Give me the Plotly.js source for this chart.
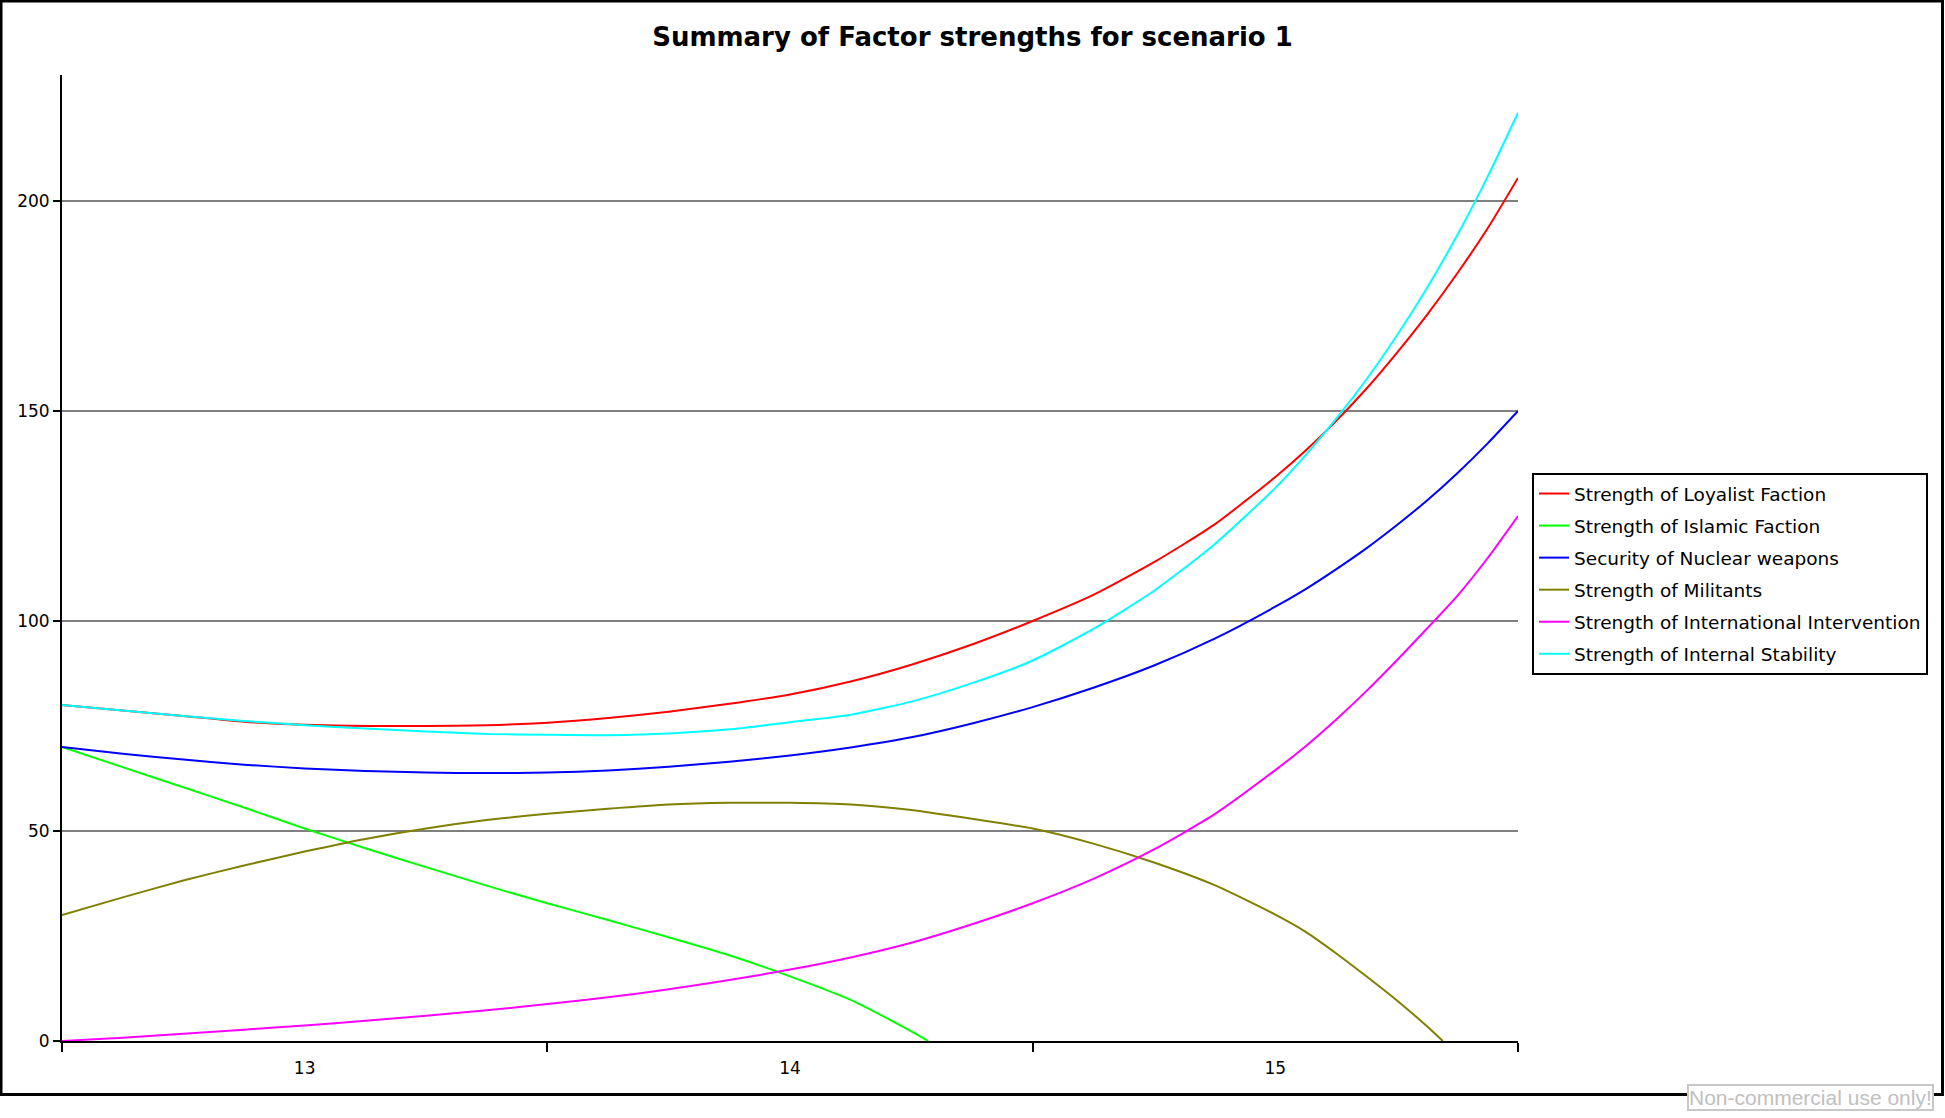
<!DOCTYPE html>
<html>
<head>
<meta charset="utf-8">
<script src="https://cdn.plot.ly/plotly-3.0.1.min.js"></script>
<style>
  html, body { margin: 0; padding: 0; background: #ffffff; }
  #chart { width: 1945px; height: 1118px; }
</style>
</head>
<body>
<div id="chart"></div>
<script>
// ---- data ----
const seriesNames = [
  "Strength of Loyalist Faction",
  "Strength of Islamic Faction",
  "Security of Nuclear weapons",
  "Strength of Militants",
  "Strength of International Intervention",
  "Strength of Internal Stability"
];
const seriesColors = ["#ff0000", "#00ff00", "#0000ff", "#808000", "#ff00ff", "#00ffff"];

// time axis (finer sampling where the curves rise steeply)
const time = [12.5, 12.625, 12.75, 12.875, 13.0, 13.125, 13.25, 13.375, 13.5, 13.625, 13.75, 13.875,
              14.0, 14.125, 14.25, 14.375, 14.5, 14.625, 14.75, 14.875, 15.0, 15.0625, 15.125, 15.1875,
              15.25, 15.3125, 15.375, 15.4375, 15.5];
const timeIslamic = [12.5, 12.625, 12.75, 12.875, 13.0, 13.125, 13.25, 13.375, 13.5, 13.625, 13.75, 13.875,
                     14.0, 14.125, 14.25, 14.285];
const timeMilitants = [12.5, 12.625, 12.75, 12.875, 13.0, 13.125, 13.25, 13.375, 13.5, 13.625, 13.75, 13.875,
                       14.0, 14.125, 14.25, 14.375, 14.5, 14.625, 14.75, 14.875, 15.0, 15.0625, 15.125, 15.1875,
                       15.25, 15.3125, 15.345];

const loyalist = [80.0, 78.7, 77.4, 76.0, 75.3, 75.0, 75.0, 75.2, 75.8, 76.9, 78.4, 80.3,
                  82.5, 85.6, 89.6, 94.4, 100.0, 106.2, 114.0, 123.0, 134.3, 140.6, 147.6, 155.3,
                  163.8, 172.9, 182.8, 193.5, 205.5];
const islamic = [70.0, 65.2, 60.4, 55.6, 50.6, 45.9, 41.4, 37.0, 32.8, 28.8, 24.7, 20.4,
                 15.4, 9.8, 2.3, 0];
const nuclear = [70.0, 68.4, 67.0, 65.8, 64.9, 64.3, 63.9, 63.8, 63.9, 64.4, 65.3, 66.5,
                 68.0, 69.9, 72.3, 75.6, 79.5, 84.1, 89.4, 95.8, 103.4, 107.6, 112.3, 117.3,
                 122.8, 128.7, 135.2, 142.3, 150.0];
const militants = [30.0, 34.2, 38.2, 41.8, 45.1, 48.1, 50.6, 52.6, 54.1, 55.3, 56.3, 56.7,
                   56.7, 56.3, 55.0, 52.9, 50.6, 47.0, 42.5, 37.1, 30.1, 26.0, 20.9, 15.4,
                   9.7, 3.5, 0];
const intervention = [0, 0.8, 1.7, 2.7, 3.7, 4.8, 6.0, 7.3, 8.8, 10.4, 12.3, 14.5,
                      17.0, 19.9, 23.4, 27.8, 32.8, 38.6, 45.6, 54.0, 64.5, 70.2, 76.5, 83.3,
                      90.6, 98.2, 106.0, 115.0, 125.0];
const stability = [80.0, 78.7, 77.4, 76.2, 75.2, 74.4, 73.7, 73.1, 72.9, 72.8, 73.2, 74.2,
                   75.9, 77.7, 80.8, 85.2, 90.6, 98.1, 107.2, 118.3, 131.7, 139.5, 148.1, 157.5,
                   167.9, 179.3, 191.9, 205.8, 221.0];

const xTickVals = [13, 14, 15];
const xTickText = ["13", "14", "15"];
const xBoundaries = [12.5, 13.5, 14.5, 15.5];
const yTickVals = [0, 50, 100, 150, 200];

const titleText = "Summary of Factor strengths for scenario 1";
const watermarkText = "Non-commercial use only!";

// ---- build traces ----
const xs = [time, timeIslamic, time, timeMilitants, time, time];
const ys = [loyalist, islamic, nuclear, militants, intervention, stability];

const traces = seriesNames.map((name, i) => ({
  type: "scatter",
  mode: "lines",
  name: name,
  x: xs[i],
  y: ys[i],
  legendgroup: "g" + i,
  line: { color: seriesColors[i], width: 2, shape: "spline", smoothing: 0.6 },
  hoverinfo: "skip"
}));

// ---- geometry ----
const W = 1945, H = 1118;
const mL = 62, mR = 427, mT = 75, mB = 77;
const pw = W - mL - mR, ph = H - mT - mB;
const px = v => (v - mL) / pw;           // pixel x -> paper x
const py = v => (H - mB - v) / ph;       // pixel y -> paper y

const tickFont = { family: "DejaVu Sans, Verdana, sans-serif", size: 17, color: "#000000" };

const layout = {
  width: W, height: H,
  margin: { l: mL, r: mR, t: mT, b: mB, pad: 0 },
  paper_bgcolor: "#ffffff",
  plot_bgcolor: "#ffffff",
  showlegend: true,
  title: {
    text: titleText,
    font: { family: "DejaVu Sans, Verdana, sans-serif", size: 26, color: "#000000", weight: "bold" },
    xref: "container", x: 0.5, xanchor: "center",
    yref: "container", y: 1 - 37 / H, yanchor: "middle"
  },
  xaxis: {
    range: [12.5, 15.5],
    tickmode: "array", tickvals: xTickVals, ticktext: xTickText,
    ticks: "", showgrid: false, zeroline: false,
    showline: true, linecolor: "#000000", linewidth: 2,
    tickfont: tickFont, ticklabelstandoff: 11,
    minor: { tickmode: "array", tickvals: xBoundaries, ticks: "outside", ticklen: 9, tickwidth: 2, tickcolor: "#000000", showgrid: false },
    fixedrange: true
  },
  xaxis2: {
    overlaying: "x", matches: "x", anchor: "y", side: "bottom",
    range: [12.5, 15.5],
    tickmode: "array", tickvals: xBoundaries, showticklabels: false,
    ticks: "inside", ticklen: 9, tickwidth: 2, tickcolor: "#000000",
    showgrid: false, zeroline: false, showline: false
  },
  yaxis: {
    range: [0, 230],
    tickmode: "array", tickvals: yTickVals,
    ticks: "outside", ticklen: 7, tickwidth: 2, tickcolor: "#000000",
    showgrid: true, gridcolor: "#808080", gridwidth: 2,
    zeroline: false, showline: true, linecolor: "#000000", linewidth: 2,
    tickfont: tickFont, fixedrange: true
  },
  yaxis2: {
    overlaying: "y", matches: "y", anchor: "x", side: "left",
    range: [0, 230],
    tickmode: "array", tickvals: yTickVals, showticklabels: false,
    ticks: "inside", ticklen: 8, tickwidth: 2, tickcolor: "#000000",
    showgrid: false, zeroline: false, showline: false
  },
  legend: {
    x: px(1532), xanchor: "left",
    y: py(473), yanchor: "top",
    bgcolor: "#ffffff", bordercolor: "#000000", borderwidth: 2,
    font: { family: "DejaVu Sans, Verdana, sans-serif", size: 18.5, color: "#000000" },
    tracegroupgap: 5,
    traceorder: "grouped"
  },
  shapes: [
    { type: "rect", xref: "paper", yref: "paper",
      x0: px(1), x1: px(1942.5), y0: py(1094.5), y1: py(1),
      line: { color: "#000000", width: 3 }, fillcolor: "rgba(0,0,0,0)", layer: "above" }
  ],
  annotations: [
    { text: watermarkText, showarrow: false,
      xref: "paper", yref: "paper",
      x: px(1934), xanchor: "right", y: py(1111), yanchor: "bottom",
      font: { family: "Liberation Sans, Arial, sans-serif", size: 21, color: "#c0c0c0" },
      bgcolor: "#ffffff", bordercolor: "#c8c8c8", borderwidth: 2, borderpad: 0 }
  ]
};

Plotly.newPlot("chart", traces, layout, { displayModeBar: false, staticPlot: true });
</script>
</body>
</html>
